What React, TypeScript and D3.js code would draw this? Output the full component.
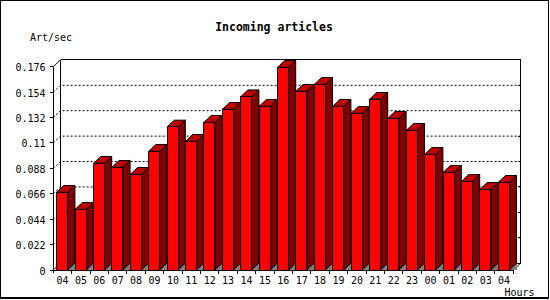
import React from "react";
import * as d3 from "d3";

const hours = ["04","05","06","07","08","09","10","11","12","13","14","15","16","17","18","19","20","21","22","23","00","01","02","03","04"];
const rates = [0.0673,0.0525,0.0924,0.0889,0.0828,0.1027,0.1238,0.1114,0.1278,0.1391,0.150,0.1417,0.1755,0.1547,0.1607,0.1417,0.1356,0.1478,0.1313,0.1209,0.1001,0.0845,0.0767,0.0698,0.0759];
const tickValues = [0,0.022,0.044,0.066,0.088,0.11,0.132,0.154,0.176];
const tickLabels = ["0","0.022","0.044","0.066","0.088","0.11","0.132","0.154","0.176"];

export default function App() {
  const W = 550, H = 300;
  const x0 = 53.3, x1 = 513.3, yBottom = 270, yTop = 66.7;
  const dx = 7.2, dy = 6.8;
  const y = d3.scaleLinear().domain([0, 0.176]).range([yBottom, yTop]);
  const keys = hours.map((h, i) => i);
  const x = d3.scaleBand<number>().domain(keys).range([x0, x1]).padding(0);
  const bw = x.bandwidth();
  const mono = "'DejaVu Sans Mono', monospace";
  return (
    <svg width={W} height={H} style={{ position: "fixed", left: 0, top: 0, background: "#fff" }} shapeRendering="crispEdges">
      <rect x={0} y={0} width={W} height={H} fill="#fff" />
      <rect x={0.5} y={0.5} width={547.5} height={297} fill="none" stroke="#000" strokeWidth={1} />
      <line x1={0} x2={549} y1={298.5} y2={298.5} stroke="#000" />
      <line x1={548.5} x2={548.5} y1={0} y2={299} stroke="#000" />
      <text x={274} y={31} textAnchor="middle" fontFamily={mono} fontWeight="bold" fontSize={11.5} fill="#000">Incoming articles</text>
      <text x={30} y={40.5} fontFamily={mono} fontSize={10} fill="#000">Art/sec</text>
      <text x={504.5} y={296} fontFamily={mono} fontSize={10} fill="#000">Hours</text>
      {/* gridlines */}
      {tickValues.slice(1, -1).map((v, i) => (
        <g key={"g" + i}>
          <polyline
            points={`${x0},${y(v)} ${x0 + dx},${y(v) - dy} ${x1 + dx},${y(v) - dy}`}
            fill="none" stroke="#000" strokeDasharray="2,2" shapeRendering="auto" strokeWidth={1}
          />
          <line x1={x1 + dx - 2.5} x2={x1 + dx} y1={y(v) - dy} y2={y(v) - dy} stroke="#000" />
        </g>
      ))}
      {/* back box */}
      <g stroke="#000" fill="none" strokeWidth={1}>
        <line x1={x0 + dx} x2={x0 + dx} y1={yTop - dy} y2={yBottom - dy} />
        <line x1={x0 + dx} x2={x1 + dx} y1={yTop - dy} y2={yTop - dy} />
        <line x1={x1 + dx} x2={x1 + dx} y1={yTop - dy} y2={yBottom - dy} />
        <line x1={x0 + dx} x2={x1 + dx} y1={yBottom - dy} y2={yBottom - dy} />
        <line x1={x0} x2={x0 + dx} y1={yTop} y2={yTop - dy} shapeRendering="auto" />
        <line x1={x0} x2={x0 + dx} y1={yBottom} y2={yBottom - dy} shapeRendering="auto" />
        <line x1={x1} x2={x1 + dx} y1={yBottom} y2={yBottom - dy} shapeRendering="auto" />
      </g>
      {/* bars */}
      {rates.map((v, i) => {
        const bx = (x(i) as number) + 3.4;
        const bx2 = bx + 11;
        const ty = y(v);
        return (
          <g key={"b" + i} stroke="#000" strokeWidth={1} strokeLinejoin="miter">
            <polygon points={`${bx2},${yBottom} ${bx2 + dx},${yBottom - dy} ${bx2 + dx},${yBottom}`} fill="#808080" stroke="none" />
            <polygon points={`${bx2},${yBottom} ${bx2 + dx},${yBottom - dy} ${bx2 + dx},${ty - dy} ${bx2},${ty}`} fill="#800000" shapeRendering="auto" />
            <polygon points={`${bx},${ty} ${bx + dx},${ty - dy} ${bx2 + dx},${ty - dy} ${bx2},${ty}`} fill="#c00000" shapeRendering="auto" />
            <rect x={bx} y={ty} width={11} height={yBottom - ty} fill="#ff0000" />
          </g>
        );
      })}
      {/* axes */}
      <line x1={x0} x2={x0} y1={yTop} y2={yBottom + 3} stroke="#000" />
      <line x1={x0} x2={x1} y1={yBottom} y2={yBottom} stroke="#000" />
      {tickValues.map((v, i) => (
        <g key={"t" + i}>
          <line x1={x0 - 3.5} x2={x0} y1={y(v)} y2={y(v)} stroke="#000" />
          <text x={45.5} y={y(v) + 4.5} textAnchor="end" fontFamily={mono} fontSize={10} fill="#000">{tickLabels[i]}</text>
        </g>
      ))}
      {keys.map((k) => (
        <line key={"xt" + k} x1={(x(k) as number) + bw} x2={(x(k) as number) + bw} y1={yBottom} y2={yBottom + 4} stroke="#000" />
      ))}
      {hours.map((h, i) => (
        <text key={"xl" + i} x={(x(i) as number) + bw / 2} y={283.5} textAnchor="middle" fontFamily={mono} fontSize={10} fill="#000">{h}</text>
      ))}
    </svg>
  );
}
